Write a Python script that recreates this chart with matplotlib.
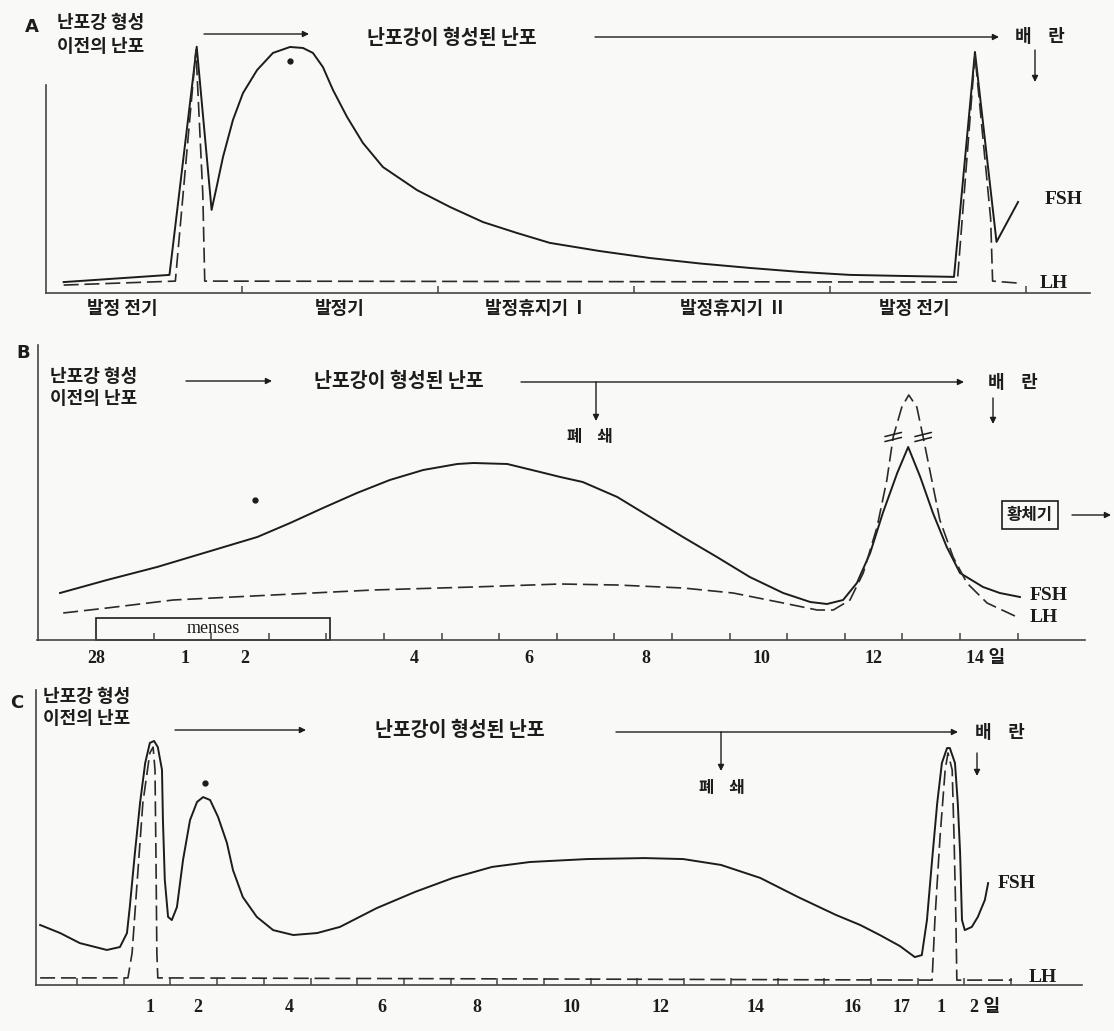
import matplotlib.pyplot as plt
from matplotlib.patches import Rectangle

KR = ['Noto Sans CJK KR', 'DejaVu Sans']
SERIF = ['Liberation Serif', 'Noto Sans CJK KR']
INK = '#1c1c1c'

# ---- panel A: x = stage units (1 tick = 1 stage), y = relative level
a_fsh_x = [0.09, 0.63, 0.769, 0.845, 0.871, 0.903, 0.954, 1.005, 1.077, 1.158, 1.245, 1.311,
           1.362, 1.413, 1.464, 1.536, 1.617, 1.719, 1.893, 2.061, 2.230, 2.403, 2.571, 2.827,
           3.082, 3.337, 3.592, 3.847, 4.102, 4.357, 4.633, 4.74, 4.85, 4.96]
a_fsh_y = [4.4, 7.3, 99.3, 33.5, 42.9, 54.8, 69.8, 80.6, 89.9, 96.8, 99.2, 98.8,
           96.8, 91.1, 81.9, 71.0, 60.5, 50.8, 41.5, 34.7, 28.6, 24.2, 20.2, 16.9,
           14.1, 11.9, 10.1, 8.5, 7.3, 6.9, 6.5, 97.2, 20.6, 36.7]
a_lh_x = [0.09, 0.66, 0.765, 0.80, 0.81, 4.65, 4.74, 4.82, 4.83, 4.96]
a_lh_y = [3.2, 4.8, 98, 40, 4.8, 4.4, 96, 30, 4.8, 4.0]
a_ticks = [1, 2, 3, 4, 5]
a_label_pos = [0.39, 1.50, 2.49, 3.50, 4.43]
a_labels = ['발정 전기', '발정기', '발정휴지기  I', '발정휴지기  II', '발정 전기']

# ---- panel B: x = tick units (one per day), y = relative level
b_fsh_x = [-0.625, 0.19, 1.06, 1.93, 2.80, 3.37, 3.94, 4.53, 5.10, 5.68, 6.27, 6.55, 7.14,
           7.71, 8.06, 8.45, 9.05, 9.62, 10.19, 10.78, 11.35, 11.93, 12.40, 12.69, 12.97,
           13.21, 13.44, 13.66, 13.91, 14.10, 14.31, 14.53, 14.77, 15.0, 15.40, 15.69, 16.04]
b_fsh_y = [18.8, 24, 29.2, 35.2, 41.2, 46.8, 52.8, 58.8, 64, 68, 70.4, 70.8, 70.4,
           67.2, 65.2, 63.2, 57.2, 49.2, 41.2, 33.2, 25.2, 18.8, 15.2, 14.4, 16,
           22.8, 34.8, 50.8, 66.8, 77.2, 65.2, 50.8, 37.2, 26.8, 21.2, 18.8, 17.2]
b_lh_x = [-0.57, 0.19, 1.34, 3.07, 4.81, 6.55, 8.06, 9.05, 10.19, 11.06, 11.93, 12.52, 12.80,
          13.09, 13.32, 13.56, 13.73, 13.84, 13.99, 14.11, 14.25, 14.36, 14.51, 14.65, 14.88,
          15.12, 15.47, 15.99]
b_lh_y = [10.8, 12.8, 16, 18, 20, 21.2, 22.4, 22, 20.8, 18.8, 14.8, 12, 12,
          16, 26.8, 45.2, 64, 81.2, 93.2, 98, 93.2, 81.2, 64, 48, 33.2,
          22.8, 14.8, 9.2]
b_breaks_x = [13.84, 14.36]
b_breaks_y = [81.2, 81.2]
b_ticks = list(range(17))
b_label_pos = [0, 1.55, 2.59, 5.52, 7.52, 9.55, 11.56, 13.49, 15.45]
b_labels = ['28', '1', '2', '4', '6', '8', '10', '12', '14 일']
menses_start, menses_end = 0, 4.06

# ---- panel C: x = tick units (one per day), y = relative level
c_fsh_x = [-0.79, -0.36, 0.06, 0.64, 0.92, 1.07, 1.13, 1.24, 1.35, 1.46, 1.56, 1.65, 1.73,
           1.82, 1.84, 1.88, 1.95, 2.03, 2.14, 2.27, 2.42, 2.57, 2.70, 2.85, 3.02, 3.21,
           3.34, 3.55, 3.85, 4.20, 4.63, 5.14, 5.63, 6.42, 7.24, 8.05, 8.89, 9.70, 10.92,
           12.16, 12.98, 13.79, 14.63, 15.44, 16.25, 16.77, 17.19, 17.62, 17.94, 18.09,
           18.20, 18.31, 18.42, 18.52, 18.63, 18.69, 18.80, 18.86, 18.91, 18.95, 19.01,
           19.16, 19.29, 19.44, 19.51]
c_fsh_y = [24.5, 21.2, 17.1, 14.3, 15.5, 21.2, 31.8, 53.9, 74.3, 90.6, 98.8, 99.6, 97.1,
           87.8, 67.3, 42.9, 27.8, 26.5, 31.8, 51, 67.3, 74.7, 76.7, 75.5, 68.6, 58,
           46.9, 35.9, 27.8, 22.4, 20.4, 21.2, 23.7, 31.4, 38, 43.7, 48.2, 50.2, 51.4,
           51.8, 51.4, 49, 43.7, 35.9, 28.6, 24.5, 20.4, 15.9, 11.4, 12.2,
           26.5, 51, 74.3, 90.6, 96.7, 96.7, 90.6, 74.3, 53.9, 26.5, 22.4,
           23.7, 27.8, 34.7, 41.6]
c_lh_x = [-0.79, 1.09, 1.18, 1.28, 1.41, 1.56, 1.63, 1.67, 1.69, 1.71, 1.73, 18.31, 18.37,
          18.48, 18.59, 18.65, 18.74, 18.78, 18.82, 18.84, 20.02]
c_lh_y = [2.9, 2.9, 13.1, 40, 74.3, 94.7, 97.1, 87.8, 53.9, 13.1, 2.9, 2.0, 26.5,
          60.4, 87.8, 94.7, 87.8, 60.4, 26.5, 2.0, 2.0]
c_ticks = list(range(21))
c_label_pos = [1.56, 2.59, 4.54, 6.53, 8.56, 10.58, 12.5, 14.52, 16.6, 17.66, 18.5, 19.45]
c_labels = ['1', '2', '4', '6', '8', '10', '12', '14', '16', '17', '1', '2 일']

W, H = 1114, 1031
fig = plt.figure(figsize=(W / 100, H / 100), dpi=100)
fig.patch.set_facecolor('#f9f9f7')

# overlay for annotations, in pixel units of the figure
ov = fig.add_axes([0, 0, 1, 1])
ov.set_xlim(0, W)
ov.set_ylim(H, 0)
ov.axis('off')
ov.patch.set_alpha(0)


def rect(l, r, b, t):
    return [l / W, 1 - b / H, (r - l) / W, (b - t) / H]


def panel(box, xlim, ylim, ticks, label_pos, labels, pad, family, size):
    ax = fig.add_axes(rect(*box))
    ax.patch.set_alpha(0)
    ax.set_xlim(*xlim)
    ax.set_ylim(*ylim)
    for s in ['top', 'right']:
        ax.spines[s].set_visible(False)
    for s in ['left', 'bottom']:
        ax.spines[s].set_color('#444444')
        ax.spines[s].set_linewidth(1.2)
    ax.set_yticks([])
    ax.set_xticks(ticks, minor=True)
    ax.set_xticks(label_pos)
    ax.set_xticklabels(labels, family=family, fontsize=size, fontweight='bold', color=INK)
    ax.tick_params(axis='x', which='major', length=0, pad=pad)
    ax.tick_params(axis='x', which='minor', direction='in', length=5, width=1.1, color='#444444')
    return ax


def curves(ax, fx, fy, lx, ly):
    ax.plot(fx, fy, color=INK, lw=1.4, clip_on=False, solid_joinstyle='round')
    ax.plot(lx, ly, color='#2a2a2a', lw=1.2, ls=(0, (9, 3.5)), clip_on=False)


def arrow(x0, y0, x1, y1):
    ov.annotate('', xy=(x1, y1), xytext=(x0, y0),
                arrowprops=dict(arrowstyle='-|>', lw=1.0, color=INK, mutation_scale=9,
                                shrinkA=0, shrinkB=0))


def kr(x, y, s, ha='left', size=13):
    ov.text(x, y, s, ha=ha, va='center', family=KR, fontsize=size, fontweight='bold', color=INK)


def latin(x, y, s, size=14):
    ov.text(x, y, s, ha='left', va='center', family=SERIF, fontsize=size, fontweight='bold', color=INK)


# ---------------- A
axA = panel((46, 1090, 293, 85), (0, 5.327), (0, 83.87), a_ticks, a_label_pos, a_labels,
            4, KR, 13)
curves(axA, a_fsh_x, a_fsh_y, a_lh_x, a_lh_y)
ov.text(25, 27, 'A', ha='left', va='center', fontsize=13, fontweight='bold', color=INK)
kr(57, 22, '난포강 형성')
kr(57, 46, '이전의 난포')
arrow(204, 34, 309, 34)
kr(452, 38, '난포강이 형성된 난포', ha='center', size=14)
arrow(595, 37, 999, 37)
kr(1040, 37, '배    란', ha='center')
arrow(1035, 50, 1035, 82)
ov.plot([290], [61], 'o', ms=3.5, color=INK)
latin(1045, 200, 'FSH')
latin(1040, 283, 'LH')

# ---------------- B
axB = panel((37.5, 1085, 640, 345), (-1.016, 17.17), (0, 118), b_ticks, b_label_pos, b_labels,
            7, SERIF, 13)
curves(axB, b_fsh_x, b_fsh_y, b_lh_x, b_lh_y)
axB.add_patch(Rectangle((menses_start, 0), menses_end - menses_start, 8.8, fill=False,
                        ec=INK, lw=1.2, clip_on=False))
axB.text((menses_start + menses_end) / 2, 4.6, 'menses', ha='center', va='center',
         family=SERIF, fontsize=13, color=INK)
# break marks on the LH surge
for bx, by in zip(b_breaks_x, b_breaks_y):
    for off in (-1.0, 1.0):
        axB.plot([bx - 0.14, bx + 0.14], [by + off - 0.8, by + off + 0.8], color=INK,
                 lw=1.1, clip_on=False)
ov.text(16, 353, 'B', ha='left', va='center', fontsize=13, fontweight='bold', color=INK)
kr(50, 377, '난포강 형성')
kr(50, 398, '이전의 난포')
arrow(186, 381, 272, 381)
kr(399, 381, '난포강이 형성된 난포', ha='center', size=14)
arrow(521, 382, 964, 382)
arrow(596, 382, 596, 421)
kr(590, 437, '폐    쇄', ha='center', size=12)
kr(1013, 382, '배    란', ha='center')
arrow(993, 398, 993, 424)
ov.text(1030, 515, '황체기', ha='center', va='center', family=KR, fontsize=12,
        fontweight='bold', color=INK,
        bbox=dict(boxstyle='square,pad=0.3', fc='none', ec=INK, lw=1.2))
arrow(1072, 515, 1111, 515)
ov.plot([255], [500], 'o', ms=3.5, color=INK)
latin(1030, 595, 'FSH')
latin(1030, 617, 'LH')

# ---------------- C
axC = panel((36, 1082, 985, 690), (-0.878, 21.52), (0, 120.4), c_ticks, c_label_pos, c_labels,
            10, SERIF, 13)
curves(axC, c_fsh_x, c_fsh_y, c_lh_x, c_lh_y)
ov.text(10, 703, 'C', ha='left', va='center', fontsize=13, fontweight='bold', color=INK)
kr(43, 697, '난포강 형성')
kr(43, 719, '이전의 난포')
arrow(175, 730, 306, 730)
kr(460, 730, '난포강이 형성된 난포', ha='center', size=14)
arrow(616, 732, 958, 732)
arrow(721, 732, 721, 771)
kr(722, 788, '폐    쇄', ha='center', size=12)
kr(1000, 732, '배    란', ha='center')
arrow(977, 753, 977, 776)
ov.plot([205], [783], 'o', ms=3.5, color=INK)
latin(998, 883, 'FSH')
latin(1029, 977, 'LH')

fig.savefig('out.png', dpi=100, facecolor=fig.get_facecolor())
